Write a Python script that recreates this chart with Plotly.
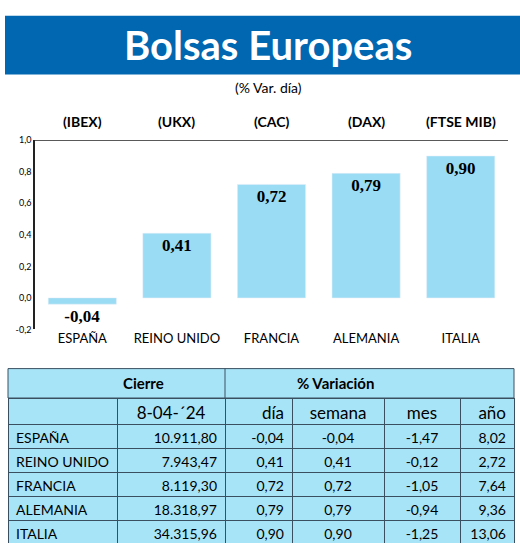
import plotly.graph_objects as go

paises = ["ESPAÑA", "REINO UNIDO", "FRANCIA", "ALEMANIA", "ITALIA"]
indices = ["(IBEX)", "(UKX)", "(CAC)", "(DAX)", "(FTSE MIB)"]
var_dia = [-0.04, 0.41, 0.72, 0.79, 0.90]
cierre = ["10.911,80", "7.943,47", "8.119,30", "18.318,97", "34.315,96"]
dia = ["-0,04", "0,41", "0,72", "0,79", "0,90"]
semana = ["-0,04", "0,41", "0,72", "0,79", "0,90"]
mes = ["-1,47", "-0,12", "-1,05", "-0,94", "-1,25"]
anio = ["8,02", "2,72", "7,64", "9,36", "13,06"]
yticks = [-0.2, 0.0, 0.2, 0.4, 0.6, 0.8, 1.0]

W, H = 520, 550
FONT = "Lato"
BLUE = "#0067B0"
CELL = "#A8E4F8"
BAR = "#9ADCF4"
LINE = "#3a5060"

def px(x):
    return x / W

def py(y):
    return 1 - y / H

fig = go.Figure()

fig.add_trace(go.Bar(
    x=paises, y=var_dia, marker_color=BAR, width=0.72,
    text=["<b>" + f"{v:.2f}".replace(".", ",") + "</b>" for v in var_dia],
    textposition=["outside" if v < 0.1 else "inside" for v in var_dia],
    insidetextanchor="end",
    textfont=dict(family="Liberation Serif", size=17, color="black"),
    cliponaxis=False,
))

# tabla (sin cortes de línea en los nombres)
fig.add_trace(go.Table(
    domain=dict(x=[px(8), px(514)], y=[py(548), py(400)]),
    columnwidth=[109, 108, 67, 92, 76, 54],
    header=dict(values=["", "8-04-´24", "día", "semana", "mes", "año"],
                fill_color=CELL, line_color=LINE, height=26,
                align=["left", "center", "right", "center", "center", "right"],
                font=dict(family=FONT, size=17, color="black")),
    cells=dict(values=[[p.replace(" ", "\u00a0") for p in paises], cierre, dia, semana, mes, anio],
               fill_color=CELL, line_color=LINE, height=24,
               align=["left", "right", "right", "center", "center", "right"],
               font=dict(family=FONT, size=14, color="black")),
))

shapes = [
    dict(type="rect", xref="paper", yref="paper", x0=px(5), x1=1, y0=py(70), y1=py(10),
         fillcolor=BLUE, line_width=0, layer="below"),
    dict(type="rect", xref="paper", yref="paper", x0=px(8), x1=px(514), y0=py(400), y1=py(370),
         fillcolor=CELL, line=dict(color=LINE, width=1)),
    dict(type="line", xref="paper", yref="paper", x0=px(225), x1=px(225), y0=py(400), y1=py(370),
         line=dict(color=LINE, width=1)),
    dict(type="line", xref="paper", yref="y", x0=px(35), x1=px(508), y0=1.0, y1=1.0,
         line=dict(color="#222", width=1.5)),
]

def note(text, x, y, size, color="black"):
    return dict(text=text, x=px(x), y=py(y), xref="paper", yref="paper",
                xanchor="center", yanchor="middle", showarrow=False,
                font=dict(family=FONT, size=size, color=color))

annotations = [
    note("<b>Bolsas Europeas</b>", 268, 40, 40, "white"),
    note("(% Var. día)", 268, 83, 14),
    note("<b>Cierre</b>", 143, 385, 15),
    note("<b>% Variación</b>", 335, 385, 15),
]
for p, ind in zip(paises, indices):
    annotations.append(dict(text=f"<b>{ind}</b>", x=p, y=py(118), xref="x", yref="paper",
                            xanchor="center", yanchor="middle", showarrow=False,
                            font=dict(family=FONT, size=14, color="black")))

fig.update_layout(
    width=W, height=H, margin=dict(l=0, r=0, t=0, b=0),
    paper_bgcolor="white", plot_bgcolor="white", showlegend=False,
    shapes=shapes, annotations=annotations,
    xaxis=dict(domain=[px(35), px(508)], showline=False, ticks="", showgrid=False,
               tickfont=dict(family=FONT, size=13, color="black")),
    yaxis=dict(domain=[py(330), py(137)], range=[-0.2, 1.0], tickvals=yticks,
               ticktext=[f"{v:.1f}".replace(".", ",") for v in yticks],
               showgrid=False, zeroline=False, showline=True, linecolor="#222", linewidth=1.5,
               ticks="", tickfont=dict(family=FONT, size=9, color="black")),
)

fig.write_html("out.html", config={"displayModeBar": False})

# quitar el margen del body para que la figura quepa en la ventana
with open("out.html", encoding="utf-8") as f:
    html = f.read()
html = html.replace("<head>", "<head><style>body{margin:0;overflow:hidden}</style>", 1)
with open("out.html", "w", encoding="utf-8") as f:
    f.write(html)
